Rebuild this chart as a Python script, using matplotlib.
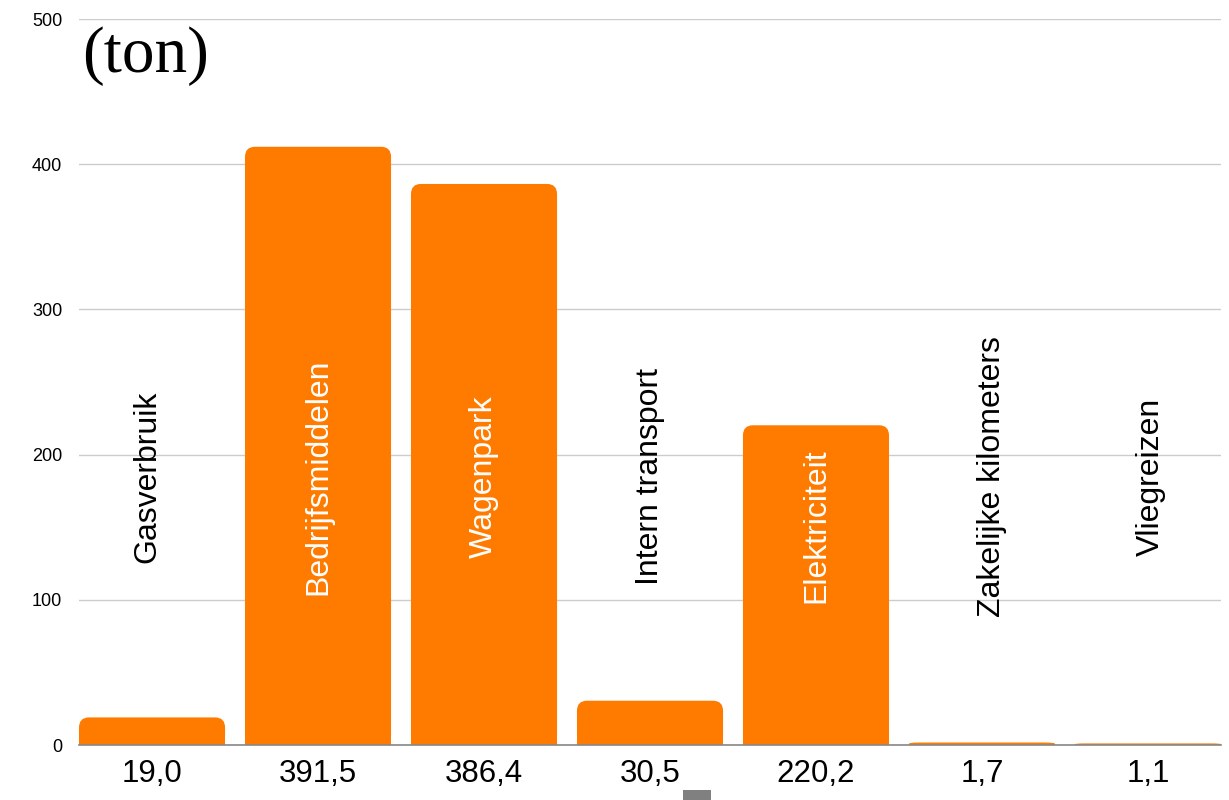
import matplotlib
matplotlib.use("Agg")
import matplotlib.pyplot as plt
from matplotlib.patches import FancyBboxPatch, Rectangle

# data
categories = ["Gasverbruik", "Bedrijfsmiddelen", "Wagenpark", "Intern transport",
              "Elektriciteit", "Zakelijke kilometers", "Vliegreizen"]
bar_heights = [19.0, 412.0, 386.4, 30.5, 220.2, 1.7, 1.1]
value_labels = ["19,0", "391,5", "386,4", "30,5", "220,2", "1,7", "1,1"]
yticks = [0, 100, 200, 300, 400, 500]

oranje = "#ff7b00"
label_y = [185, 185, 185, 185, 151, 185, 185]
label_dx = [-0.03, 0.0, 0.0, 0.0, 0.0, 0.06, 0.02]
label_kleur = ["black", "white", "white", "black", "white", "black", "black"]

plt.rcParams["font.family"] = ["Liberation Sans", "DejaVu Sans"]

fig = plt.figure(figsize=(12.29, 8), dpi=100)
ax = fig.add_axes([79 / 1229, 55 / 800, 1142 / 1229, 726 / 800])

breedte = 0.88
x = list(range(len(categories)))
bars = ax.bar(x, bar_heights, width=breedte, color=oranje, zorder=2)

# rounded top corners (about 10 px)
rx = 0.06
ry_max = 7.0
for b in bars:
    bx, by, bw, bh = b.get_x(), b.get_y(), b.get_width(), b.get_height()
    ry = min(ry_max, bh / 2)
    b.set_height(max(bh - ry, 0))
    rond = FancyBboxPatch((bx, by), bw, bh,
                          boxstyle=f"round,pad=0,rounding_size={rx}",
                          mutation_aspect=ry / rx,
                          facecolor=oranje, edgecolor="none", zorder=2)
    ax.add_patch(rond)

for i, naam in enumerate(categories):
    ax.text(x[i] + label_dx[i], label_y[i], naam, rotation=90, ha="center", va="center",
            fontsize=23, color=label_kleur[i], zorder=3)

ax.set_xlim(-breedte / 2, len(categories) - 1 + breedte / 2)
ax.set_ylim(0, 500)
ax.set_yticks(yticks)
ax.set_yticklabels([str(t) for t in yticks], fontsize=13)
ax.set_xticks(x)
ax.set_xticklabels(value_labels, fontsize=22.5)
ax.tick_params(axis="y", length=0, pad=12)
ax.tick_params(axis="x", length=0, pad=10)
ax.grid(axis="y", color="#cccccc", linewidth=1, zorder=0)
ax.set_axisbelow(True)
for s in ["left", "right", "top"]:
    ax.spines[s].set_visible(False)
ax.spines["bottom"].set_color("#888888")
ax.spines["bottom"].set_linewidth(1.2)
ax.spines["bottom"].set_zorder(3)

fig.text(82 / 1229, 1 - 26 / 800, "(ton)", fontsize=47,
         family=["Liberation Serif", "DejaVu Serif"],
         ha="left", va="top")

fig.patches.append(Rectangle((683 / 1229, 0), 28 / 1229, 10 / 800,
                             transform=fig.transFigure, facecolor="#808080",
                             edgecolor="none"))

fig.savefig("out.png", dpi=100)
